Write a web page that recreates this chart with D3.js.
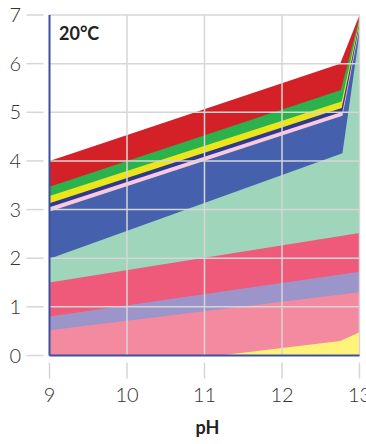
<!DOCTYPE html>
<html lang="en">
<head>
<meta charset="UTF-8">
<title>20°C pH</title>
<script src="https://d3js.org/d3.v7.min.js"></script>
<style>
    body { margin: 0; background: #fff; }
    svg { display: block; font-family: Lato, "Open Sans", sans-serif; }
    .tick-label { font-size: 20px; font-weight: 300; fill: #333; }
    .axis-title { font-size: 18px; font-weight: bold; fill: #222; }
</style>
</head>
<body>
<svg width="366" height="444"></svg>
<script>
    // top edge of each layer, [pH, value]; drawn from the top layer down, each filled to 0
    const layerNames = ["red", "green", "yellow", "darkBlue", "lightPink", "blue", "mint", "pinkRed", "lavender", "pink", "paleYellow"];
    const layerColors = ["#d42128", "#2bb24c", "#ece51a", "#2e3990", "#f9c9df", "#4561ad", "#9fd5bb", "#ef5a7a", "#9c95c9", "#f38aa0", "#fff37a"];
    const red = [[9, 4.0], [12.75, 6.0], [13, 7.0]];
    const green = [[9, 3.47], [12.76, 5.46], [13, 6.95]];
    const yellow = [[9, 3.28], [12.77, 5.22], [13, 6.9]];
    const darkBlue = [[9, 3.13], [12.77, 5.09], [13, 6.85]];
    const lightPink = [[9, 3.05], [12.78, 5.01], [13, 6.8]];
    const blue = [[9, 2.96], [12.78, 4.93], [13, 6.72]];
    const mint = [[9, 1.99], [12.78, 4.16], [13, 6.62]];
    const pinkRed = [[9, 1.5], [13, 2.52]];
    const lavender = [[9, 0.8], [13, 1.72]];
    const pink = [[9, 0.52], [13, 1.3]];
    const paleYellow = [[9, 0], [11.2, 0], [12.75, 0.3], [13, 0.48]];
    const layers = [red, green, yellow, darkBlue, lightPink, blue, mint, pinkRed, lavender, pink, paleYellow];

    const xTicks = [9, 10, 11, 12, 13];
    const yTicks = [0, 1, 2, 3, 4, 5, 6, 7];
    const tempLabel = "20°C";
    const xTitle = "pH";

    const svg = d3.select("svg");
    const margin = { top: 15, right: 6.5, bottom: 88.5, left: 49.5 };
    const width = 366, height = 444;

    const x = d3.scaleLinear().domain([9, 13]).range([margin.left, width - margin.right]);
    const y = d3.scaleLinear().domain([0, 7]).range([height - margin.bottom, margin.top]);

    const area = d3.area()
        .x(d => x(d[0]))
        .y0(y(0))
        .y1(d => y(d[1]));

    svg.append("g")
        .selectAll("path")
        .data(layers)
        .join("path")
        .attr("d", area)
        .attr("fill", (d, i) => layerColors[i]);

    // grid on top of the areas
    const grid = svg.append("g").attr("stroke", "#d6d6d6").attr("stroke-width", 1.5);
    grid.selectAll(".h")
        .data(yTicks.filter(t => t > 0))
        .join("line")
        .attr("x1", x(9)).attr("x2", x(13))
        .attr("y1", d => y(d)).attr("y2", d => y(d));
    grid.selectAll(".v")
        .data(xTicks.filter(t => t > 9))
        .join("line")
        .attr("x1", d => x(d)).attr("x2", d => x(d))
        .attr("y1", y(7)).attr("y2", y(0));

    // outer tick marks
    const ticks = svg.append("g").attr("stroke", "#d6d6d6").attr("stroke-width", 1.5);
    ticks.selectAll(".yt")
        .data(yTicks)
        .join("line")
        .attr("x1", x(9) - 23).attr("x2", x(9) - 6)
        .attr("y1", d => y(d)).attr("y2", d => y(d));
    ticks.selectAll(".xt")
        .data(xTicks)
        .join("line")
        .attr("x1", d => x(d)).attr("x2", d => x(d))
        .attr("y1", y(0) + 7).attr("y2", y(0) + 23);

    // axis lines
    svg.append("line")
        .attr("x1", x(9)).attr("x2", x(9))
        .attr("y1", y(7)).attr("y2", y(0))
        .attr("stroke", "#3d4f9f").attr("stroke-width", 2);
    svg.append("line")
        .attr("x1", x(9)).attr("x2", x(13))
        .attr("y1", y(0)).attr("y2", y(0))
        .attr("stroke", "#3d4f9f").attr("stroke-width", 2);

    svg.selectAll(".ylab")
        .data(yTicks)
        .join("text")
        .attr("class", "tick-label")
        .attr("x", 21)
        .attr("y", d => y(d) + 7)
        .attr("text-anchor", "end")
        .text(d => d);

    svg.selectAll(".xlab")
        .data(xTicks)
        .join("text")
        .attr("class", "tick-label")
        .attr("x", d => x(d))
        .attr("y", 402)
        .attr("text-anchor", "middle")
        .text(d => d);

    svg.append("text")
        .attr("class", "axis-title")
        .attr("x", (x(9) + x(13)) / 2 + 3)
        .attr("y", 434)
        .attr("text-anchor", "middle")
        .text(xTitle);

    svg.append("text")
        .attr("class", "axis-title")
        .attr("x", 59)
        .attr("y", 40)
        .text(tempLabel);
</script>
</body>
</html>
